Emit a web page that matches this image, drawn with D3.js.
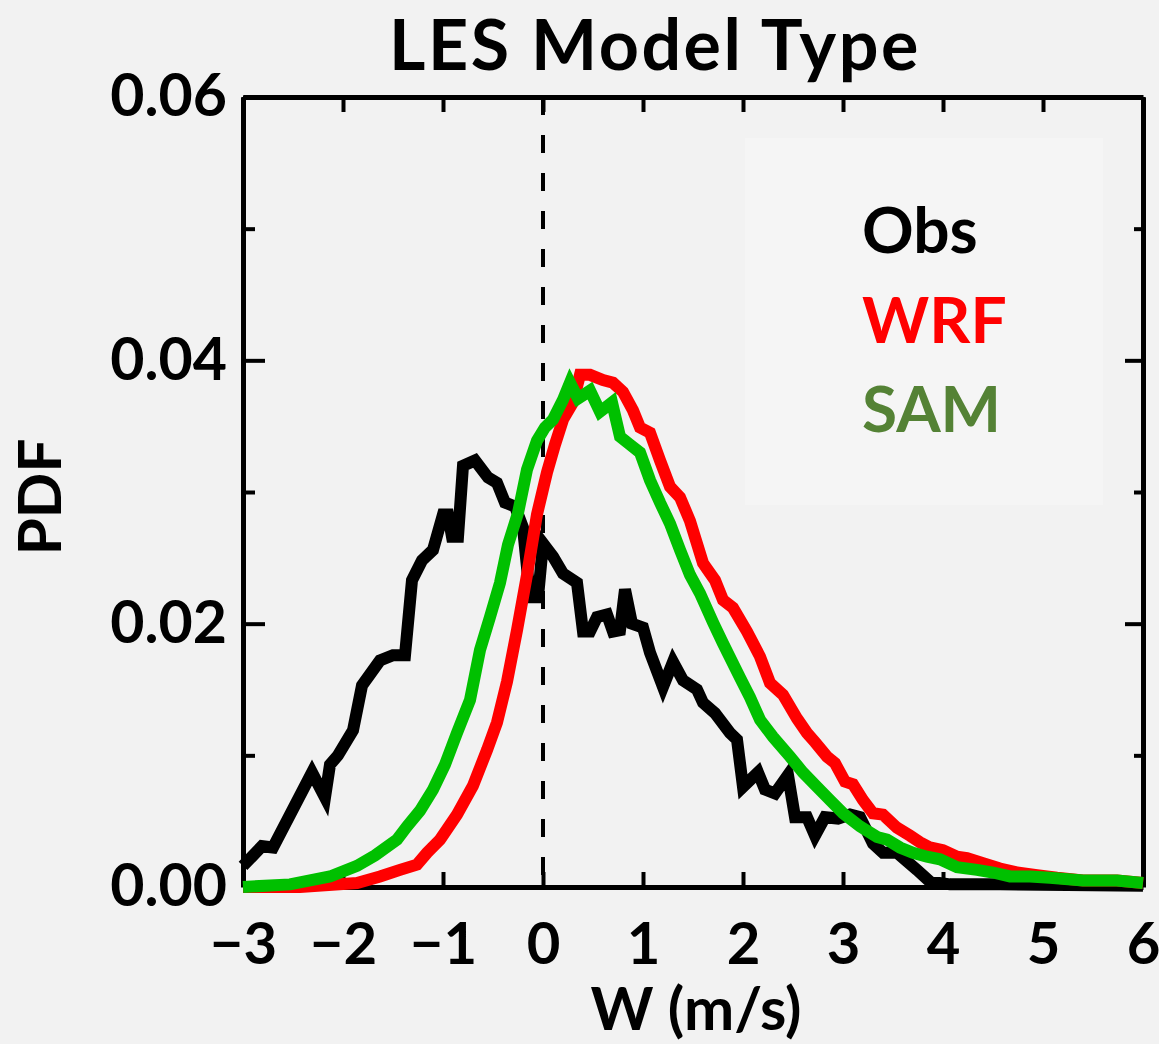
<!DOCTYPE html>
<html lang="en">
<head>
    <meta charset="UTF-8">
    <title>LES Model Type</title>
    <script src="https://d3js.org/d3.v7.min.js"></script>
    <style>
        body { margin: 0; background: #f2f2f2; }
        svg { display: block; font-family: Lato, "Open Sans", sans-serif; font-weight: 700; }
        .axis path.domain { stroke: #000; stroke-width: 5px; }
        .axis .tick line { stroke: #000; stroke-width: 4px; }
        .axis .tick text { fill: #000; font-family: Lato, sans-serif; font-weight: 700; }
    </style>
</head>
<body>
    <svg width="1159" height="1044"></svg>

    <script>
        // ticks
        const xTicks = [-3, -2, -1, 0, 1, 2, 3, 4, 5, 6];
        const yTicks = [0, 0.02, 0.04, 0.06];
        const yMinorTicks = [0.01, 0.03, 0.05];

        // legend
        const seriesNames = ["Obs", "WRF", "SAM"];
        const lineColors = ["#000000", "#ff0000", "#00c000"];
        const labelColors = ["#000000", "#ff0000", "#548235"];

        // [W (m/s), PDF]
        const obsData = [
            [-3.00, 0.0016], [-2.81, 0.0031], [-2.70, 0.0030], [-2.31, 0.0087], [-2.18, 0.0068],
            [-2.13, 0.0093], [-2.05, 0.0100], [-1.90, 0.0119], [-1.81, 0.0153], [-1.63, 0.0172],
            [-1.50, 0.0176], [-1.38, 0.0176], [-1.31, 0.0233], [-1.21, 0.0248], [-1.10, 0.0256],
            [-1.00, 0.0283], [-0.95, 0.0283], [-0.91, 0.0266], [-0.85, 0.0266], [-0.80, 0.0320],
            [-0.68, 0.0324], [-0.55, 0.0311], [-0.46, 0.0307], [-0.38, 0.0292], [-0.28, 0.0289],
            [-0.20, 0.0273], [-0.13, 0.0220], [-0.05, 0.0220], [0.00, 0.0261], [0.10, 0.0251],
            [0.20, 0.0238], [0.34, 0.0231], [0.40, 0.0194], [0.47, 0.0194], [0.54, 0.0205],
            [0.64, 0.0207], [0.70, 0.0194], [0.77, 0.0195], [0.82, 0.0226], [0.89, 0.0200],
            [1.00, 0.0197], [1.07, 0.0178], [1.20, 0.0152], [1.30, 0.0171], [1.40, 0.0157],
            [1.54, 0.0150], [1.60, 0.0140], [1.72, 0.0132], [1.87, 0.0117], [1.94, 0.0112],
            [2.00, 0.0076], [2.15, 0.0087], [2.22, 0.0074], [2.32, 0.0071], [2.45, 0.0085],
            [2.52, 0.0053], [2.64, 0.0053], [2.72, 0.0039], [2.82, 0.0053], [2.95, 0.0052],
            [3.07, 0.0055], [3.17, 0.0053], [3.30, 0.0033], [3.40, 0.0026], [3.54, 0.0026],
            [3.74, 0.0013], [3.87, 0.0004], [4.07, 0.0002], [4.57, 0.0002], [6.00, 0.0001]
        ];

        const wrfData = [
            [-3.00, 0.0000], [-2.43, 0.0000], [-1.86, 0.0003], [-1.63, 0.0008], [-1.43, 0.0013],
            [-1.26, 0.0017], [-1.16, 0.0026], [-1.03, 0.0036], [-0.86, 0.0055], [-0.70, 0.0077],
            [-0.56, 0.0104], [-0.46, 0.0125], [-0.36, 0.0156], [-0.26, 0.0195], [-0.16, 0.0237],
            [-0.06, 0.0283], [0.04, 0.0315], [0.12, 0.0336], [0.20, 0.0355], [0.30, 0.0368],
            [0.37, 0.0389], [0.47, 0.0389], [0.60, 0.0385], [0.70, 0.0383], [0.80, 0.0376],
            [0.90, 0.0362], [0.97, 0.0349], [1.07, 0.0345], [1.17, 0.0324], [1.27, 0.0304],
            [1.37, 0.0296], [1.47, 0.0278], [1.60, 0.0246], [1.72, 0.0233], [1.80, 0.0218],
            [1.90, 0.0212], [2.04, 0.0194], [2.17, 0.0175], [2.27, 0.0155], [2.40, 0.0146],
            [2.54, 0.0128], [2.64, 0.0117], [2.72, 0.0110], [2.84, 0.0099], [2.92, 0.0094],
            [3.02, 0.0080], [3.10, 0.0078], [3.20, 0.0066], [3.30, 0.0056], [3.40, 0.0055],
            [3.54, 0.0045], [3.67, 0.0039], [3.77, 0.0034], [3.87, 0.0030], [4.00, 0.0028],
            [4.14, 0.0023], [4.24, 0.0022], [4.40, 0.0018], [4.57, 0.0014], [4.74, 0.0011],
            [4.94, 0.0009], [5.14, 0.0007], [5.40, 0.0005], [5.74, 0.0005], [6.00, 0.0003]
        ];

        const samData = [
            [-3.00, 0.0000], [-2.53, 0.0002], [-2.13, 0.0008], [-1.86, 0.0016], [-1.68, 0.0024],
            [-1.46, 0.0036], [-1.36, 0.0046], [-1.23, 0.0058], [-1.10, 0.0074], [-0.98, 0.0093],
            [-0.86, 0.0117], [-0.73, 0.0142], [-0.63, 0.0180], [-0.53, 0.0205], [-0.43, 0.0231],
            [-0.35, 0.0260], [-0.25, 0.0284], [-0.16, 0.0317], [-0.06, 0.0339], [0.02, 0.0349],
            [0.10, 0.0355], [0.20, 0.0370], [0.27, 0.0383], [0.35, 0.0371], [0.47, 0.0377],
            [0.57, 0.0361], [0.69, 0.0368], [0.77, 0.0342], [0.87, 0.0336], [0.97, 0.0330],
            [1.07, 0.0309], [1.17, 0.0292], [1.27, 0.0276], [1.37, 0.0256], [1.47, 0.0237],
            [1.57, 0.0223], [1.70, 0.0201], [1.80, 0.0185], [1.97, 0.0159], [2.07, 0.0144],
            [2.17, 0.0127], [2.30, 0.0114], [2.47, 0.0099], [2.60, 0.0087], [2.74, 0.0076],
            [2.87, 0.0066], [3.00, 0.0056], [3.17, 0.0046], [3.34, 0.0038], [3.44, 0.0036],
            [3.57, 0.0030], [3.70, 0.0026], [3.84, 0.0023], [3.97, 0.0021], [4.14, 0.0015],
            [4.34, 0.0013], [4.50, 0.0011], [4.67, 0.0008], [4.87, 0.0008], [5.07, 0.0007],
            [5.40, 0.0005], [5.74, 0.0005], [6.00, 0.0003]
        ];

        const svg = d3.select("svg");
        const plotLeft = 243, plotRight = 1143, plotTop = 97, plotBottom = 887;

        const x = d3.scaleLinear().domain([-3, 6]).range([plotLeft, plotRight]);
        const y = d3.scaleLinear().domain([0, 0.06]).range([plotBottom, plotTop]);

        svg.append("rect").attr("width", 1159).attr("height", 1044).attr("fill", "#f2f2f2");

        // legend background
        svg.append("rect")
            .attr("x", 745).attr("y", 138).attr("width", 358).attr("height", 367)
            .attr("fill", "#f5f5f5");

        const minus = d => d < 0 ? "\u2212" + Math.abs(d) : String(d);

        // bottom axis with labels
        svg.append("g").attr("class", "axis")
            .attr("transform", `translate(0,${plotBottom})`)
            .call(d3.axisBottom(x).tickValues(xTicks).tickFormat(minus)
                .tickSizeInner(-15).tickSizeOuter(0).tickPadding(36))
            .selectAll("text").attr("font-size", 58);

        svg.append("g").attr("class", "axis")
            .attr("transform", `translate(0,${plotTop})`)
            .call(d3.axisTop(x).tickValues(xTicks).tickFormat("")
                .tickSizeInner(-15).tickSizeOuter(0));

        // left axis with labels
        svg.append("g").attr("class", "axis")
            .attr("transform", `translate(${plotLeft},0)`)
            .call(d3.axisLeft(y).tickValues(yTicks).tickFormat(d3.format(".2f"))
                .tickSizeInner(-22).tickSizeOuter(0).tickPadding(16))
            .selectAll("text").attr("font-size", 59);

        svg.append("g").attr("class", "axis")
            .attr("transform", `translate(${plotLeft},0)`)
            .call(d3.axisLeft(y).tickValues(yMinorTicks).tickFormat("")
                .tickSizeInner(-12).tickSizeOuter(0))
            .select(".domain").remove();

        svg.append("g").attr("class", "axis")
            .attr("transform", `translate(${plotRight},0)`)
            .call(d3.axisRight(y).tickValues(yTicks).tickFormat("")
                .tickSizeInner(-18).tickSizeOuter(0));

        svg.append("g").attr("class", "axis")
            .attr("transform", `translate(${plotRight},0)`)
            .call(d3.axisRight(y).tickValues(yMinorTicks).tickFormat("")
                .tickSizeInner(-9).tickSizeOuter(0))
            .select(".domain").remove();

        // dashed zero line
        svg.append("line")
            .attr("x1", x(0)).attr("x2", x(0))
            .attr("y1", plotTop).attr("y2", plotBottom)
            .attr("stroke", "#000").attr("stroke-width", 4)
            .attr("stroke-dasharray", "18,20");

        // curves
        const line = d3.line().x(d => x(d[0])).y(d => y(d[1]));
        [obsData, wrfData, samData].forEach((data, i) => {
            svg.append("path")
                .datum(data)
                .attr("fill", "none")
                .attr("stroke", lineColors[i])
                .attr("stroke-width", 12)
                .attr("stroke-linejoin", "miter")
                .attr("d", line);
        });

        // legend text
        seriesNames.forEach((name, i) => {
            svg.append("text")
                .attr("x", 862).attr("y", 253 + i * 89.5)
                .attr("font-size", 64)
                .attr("fill", labelColors[i])
                .text(name);
        });

        // titles
        svg.append("text")
            .attr("x", 655).attr("y", 70)
            .attr("text-anchor", "middle").attr("font-size", 70)
            .attr("letter-spacing", 2.5)
            .text("LES Model Type");

        svg.append("text")
            .attr("x", 696).attr("y", 1030)
            .attr("text-anchor", "middle").attr("font-size", 60)
            .text("W (m/s)");

        svg.append("text")
            .attr("transform", "translate(61,497) rotate(-90)")
            .attr("text-anchor", "middle").attr("font-size", 60)
            .text("PDF");
    </script>
</body>
</html>
